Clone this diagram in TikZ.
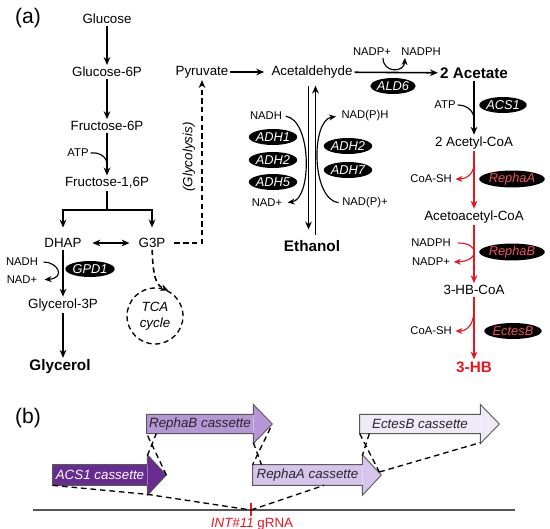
\documentclass[tikz,border=0pt]{standalone}
\usepackage{fontspec}
\setmainfont{Liberation Sans}
\definecolor{hbred}{RGB}{232,22,32}
\definecolor{enzred}{RGB}{240,80,90}
\definecolor{acscol}{RGB}{104,44,145}
\definecolor{rphbcol}{RGB}{183,150,214}
\definecolor{rphacol}{RGB}{215,196,235}
\definecolor{ectscol}{RGB}{240,233,247}
\definecolor{dnagray}{RGB}{85,85,85}
\usetikzlibrary{shapes.geometric, arrows.meta, calc}

\begin{document}
\begin{tikzpicture}[x=0.02cm, y=-0.02cm,
  met/.style={inner sep=1pt, font=\fontsize{7.6}{9}\selectfont},
  prod/.style={inner sep=1pt, font=\fontsize{8.7}{10}\selectfont\bfseries},
  cof/.style={inner sep=1pt, font=\fontsize{6.4}{8}\selectfont},
  enz/.style={ellipse, fill=black, text=white, minimum width=0.88cm, minimum height=0.32cm, inner sep=0pt, font=\fontsize{7.3}{8}\selectfont\itshape},
  arr/.style={-{Stealth[length=4.5pt, width=3.8pt]}, line width=0.9pt},
  dblarr/.style={{Stealth[length=4.5pt, width=3.8pt]}-{Stealth[length=4.5pt, width=3.8pt]}, line width=0.9pt},
  cofarr/.style={-{Stealth[length=4pt, width=3.4pt]}, line width=0.65pt},
  redarr/.style={arr, hbred},
  redcof/.style={cofarr, hbred},
  dasharr/.style={arr, dash pattern=on 3pt off 2pt},
  casbody/.style={inner sep=0pt, font=\fontsize{7.6}{9}\selectfont\itshape},
  casline/.style={draw=gray!70!black, line width=0.5pt},
  hr/.style={dash pattern=on 3.2pt off 2.2pt, line width=0.75pt}
]
  \useasboundingbox (0,0) rectangle (550,528);

  % (a) glycolysis
  \node[font=\fontsize{12}{14}\selectfont] (lbla) at (28,18) {(a)};
  \node[met] (glc) at (107,19) {Glucose};
  \node[met] (g6p) at (107,72) {Glucose-6P};
  \node[met] (f6p) at (107,126) {Fructose-6P};
  \node[met] (f16p) at (107,183) {Fructose-1,6P};
  \node[cof] (atp1) at (78,153) {ATP};
  \draw[arr] (glc) -- (g6p);
  \draw[arr] (g6p) -- (f6p);
  \draw[arr] (f6p) -- (f16p);
  \draw[line width=0.65pt] (atp1.east) .. controls (100,152) and (107,157) .. ($(f6p.south)!0.75!(f16p.north)$);

  \coordinate (split) at (107,210);
  \node[met] (dhap) at (63,243) {DHAP};
  \node[met] (g3p) at (152,243) {G3P};
  \draw[line width=0.9pt] (f16p) -- (split);
  \draw[arr, shorten >=5pt] (split) -| (dhap);
  \draw[arr, shorten >=5pt] (split) -| (g3p);
  \draw[dblarr, shorten <=5pt, shorten >=4pt] (dhap) -- (g3p);

  % glycerol branch
  \node[cof] (nadh1) at (22,262) {NADH};
  \node[cof] (nad1) at (22,280) {NAD+};
  \node[enz] (gpd1) at (90,269) {GPD1};
  \node[met] (gly3p) at (63,305) {Glycerol-3P};
  \node[prod] (gly) at (60,367) {Glycerol};
  \draw[arr] (dhap) -- (gly3p);
  \draw[cofarr, shorten <=2pt, shorten >=3pt] (nadh1.east) .. controls (58,262) and (66,278) .. (nad1.east);
  \draw[arr] (gly3p) -- (gly3p |- gly.north);

  \node[circle, draw, dash pattern=on 3pt off 2pt, line width=0.75pt, minimum size=1.12cm, inner sep=0pt, align=center, font=\fontsize{7.6}{9}\selectfont\itshape] (tca) at (155,316) {TCA\\cycle};
  \draw[dasharr] (g3p) .. controls (153,282) and (158,286) .. (tca.62);

  \node[met, rotate=90, font=\fontsize{7.6}{9}\selectfont\itshape] (glyc) at (189,157) {(Glycolysis)};
  \node[met] (pyr) at (202,72) {Pyruvate};
  \draw[dasharr, shorten <=4pt] (g3p) -| (pyr);

  % ethanol and acetate
  \node[met] (acald) at (312,72) {Acetaldehyde};
  \node[prod] (etoh) at (312,246) {Ethanol};
  \node[prod] (acet) at (474,73) {2 Acetate};
  \draw[arr, shorten >=3pt] (pyr) -- (acald);
  \draw[arr] (acald) -- (acet);
  \draw[arr, shorten <=3pt, shorten >=5pt] ([xshift=-0.07cm]acald.south) -- ([xshift=-0.07cm]etoh.north);
  \draw[arr, shorten <=2pt, shorten >=3pt] ([xshift=0.07cm]etoh.north) -- ([xshift=0.07cm]acald.south);

  \node[cof] (nadpa) at (372,52) {NADP+};
  \node[cof] (nadpha) at (421,52) {NADPH};
  \node[enz] (ald6) at (393,86) {ALD6};
  \draw[cofarr] ($(nadpa.south)+(11,0)$) .. controls (383,73) and (404,73) .. ($(nadpha.south)+(-16,0)$);

  \node[cof] (nadh2) at (266,116) {NADH};
  \node[cof] (nad2) at (267,203) {NAD+};
  \node[cof] (nadph2) at (365,116) {NAD(P)H};
  \node[cof] (nadpp2) at (365,203) {NAD(P)+};
  \node[enz] (adh1) at (273,137) {ADH1};
  \node[enz] (adh2) at (273,160) {ADH2};
  \node[enz] (adh5) at (273,182) {ADH5};
  \node[enz] (adh2b) at (348,146) {ADH2};
  \node[enz] (adh7) at (348,170) {ADH7};
  \draw[cofarr, shorten <=1pt, shorten >=2pt] (nadh2.east) .. controls (312,120) and (312,199) .. (nad2.east);
  \draw[cofarr, shorten <=1pt, shorten >=2pt] (nadpp2.west) .. controls (311,199) and (311,120) .. (nadph2.west);

  \node[met] (acoa) at (474,143) {2 Acetyl-CoA};
  \node[cof] (atp2) at (445,105) {ATP};
  \node[enz] (acs1) at (503,105) {ACS1};
  \draw[arr] (acet) -- (acoa);
  \draw[line width=0.65pt] (atp2.east) .. controls (466,105) and (474,110) .. ($(acet.south)!0.72!(acoa.north)$);

  % 3-HB pathway
  \node[met] (aacoa) at (474,217) {Acetoacetyl-CoA};
  \node[met] (hbcoa) at (474,290) {3-HB-CoA};
  \node[prod, text=hbred] (hb) at (474,367) {3-HB};
  \node[cof] (coash1) at (431,179) {CoA-SH};
  \node[cof] (nadph3) at (431,243) {NADPH};
  \node[cof] (nadpp3) at (431,262) {NADP+};
  \node[cof] (coash2) at (431,331) {CoA-SH};
  \node[enz, text=enzred, minimum width=1.2cm] (erpha) at (512,179) {RephaA};
  \node[enz, text=enzred, minimum width=1.2cm] (erphb) at (512,252) {RephaB};
  \node[enz, text=enzred, minimum width=1.06cm] (eects) at (513,331) {EctesB};
  \draw[redarr] (acoa) -- (aacoa);
  \draw[redarr] (aacoa) -- (hbcoa);
  \draw[redarr] (hbcoa) -- (hb);
  \draw[redcof, shorten >=1pt] ($(acoa.south)!0.22!(aacoa.north)$) .. controls (474,174) and (466,179) .. (coash1.east);
  \draw[redcof, shorten <=3pt, shorten >=1pt] (nadph3.east) .. controls (480,243) and (480,261) .. (nadpp3.east);
  \draw[redcof, shorten >=1pt] ($(hbcoa.south)!0.2!(hb.north)$) .. controls (474,326) and (466,331) .. (coash2.east);

  % (b) integration
  \node[font=\fontsize{12}{14}\selectfont] (lblb) at (28,418) {(b)};
  \coordinate (dnal) at (33,510);
  \coordinate (dnar) at (515,510);
  \coordinate (int) at (251,510);
  \draw[dnagray, line width=1pt] (dnal) -- (dnar);
  \draw[hbred, line width=0.9pt] ([yshift=0.14cm]int) -- ([yshift=-0.12cm]int);
  \node[met, text=hbred] (grna) at (252,524) {\textit{INT\#11} gRNA};

  \node[casbody, text=white, minimum width=1.88cm, minimum height=0.4cm, fill=acscol] (cacs) at (100,475) {ACS1 cassette};
  \node[casbody, text=black!85, minimum width=2.12cm, minimum height=0.37cm, fill=rphbcol] (crphb) at (200,424) {RephaB cassette};
  \node[casbody, text=black!85, minimum width=2.18cm, minimum height=0.4cm, fill=rphacol] (crpha) at (307.5,475) {RephaA cassette};
  \node[casbody, text=black!85, minimum width=2.4cm, minimum height=0.37cm, fill=ectscol] (cects) at (420,424) {EctesB cassette};
  \foreach \n/\c in {cacs/acscol, crphb/rphbcol, crpha/rphacol, cects/ectscol} {
    \fill[\c] (\n.north east) -- ++(0,-10) -- ($(\n.east)+(19,0)$) -- ($(\n.south east)+(0,10)$) -- (\n.south east) -- cycle;
    \draw[casline] (\n.south west) -- (\n.north west) -- (\n.north east) -- ++(0,-10) -- ($(\n.east)+(19,0)$) -- ($(\n.south east)+(0,10)$) -- (\n.south east) -- cycle;
  }

  \draw[hr] (cacs.south west) -- ($(cacs.south east)+(0,9)$) -- (int);
  \draw[hr] (int) -- ($(crpha.south west)!0.65!(crpha.south east)$);
  \draw[hr] ($(cacs.north east)+(0,-9)$) -- ($(crphb.south west)!0.09!(crphb.south east)$);
  \draw[hr] ($(cacs.east)+(19,0)$) -- (crphb.south west);
  \draw[hr] ($(crphb.east)+(17,4)$) -- (crpha.north west);
  \draw[hr] ($(crphb.south east)+(0,9)$) -- ($(crpha.north west)!0.08!(crpha.north east)$);
  \draw[hr] (cects.south west) -- ($(crpha.east)+(17,-3)$);
  \draw[hr] ($(cects.south west)!0.08!(cects.south east)$) -- ($(crpha.north east)+(0,-9)$);
  \draw[hr] ($(crpha.east)+(17,-3)$) -- ($(cects.south east)+(0,9)$);
\end{tikzpicture}
\end{document}
